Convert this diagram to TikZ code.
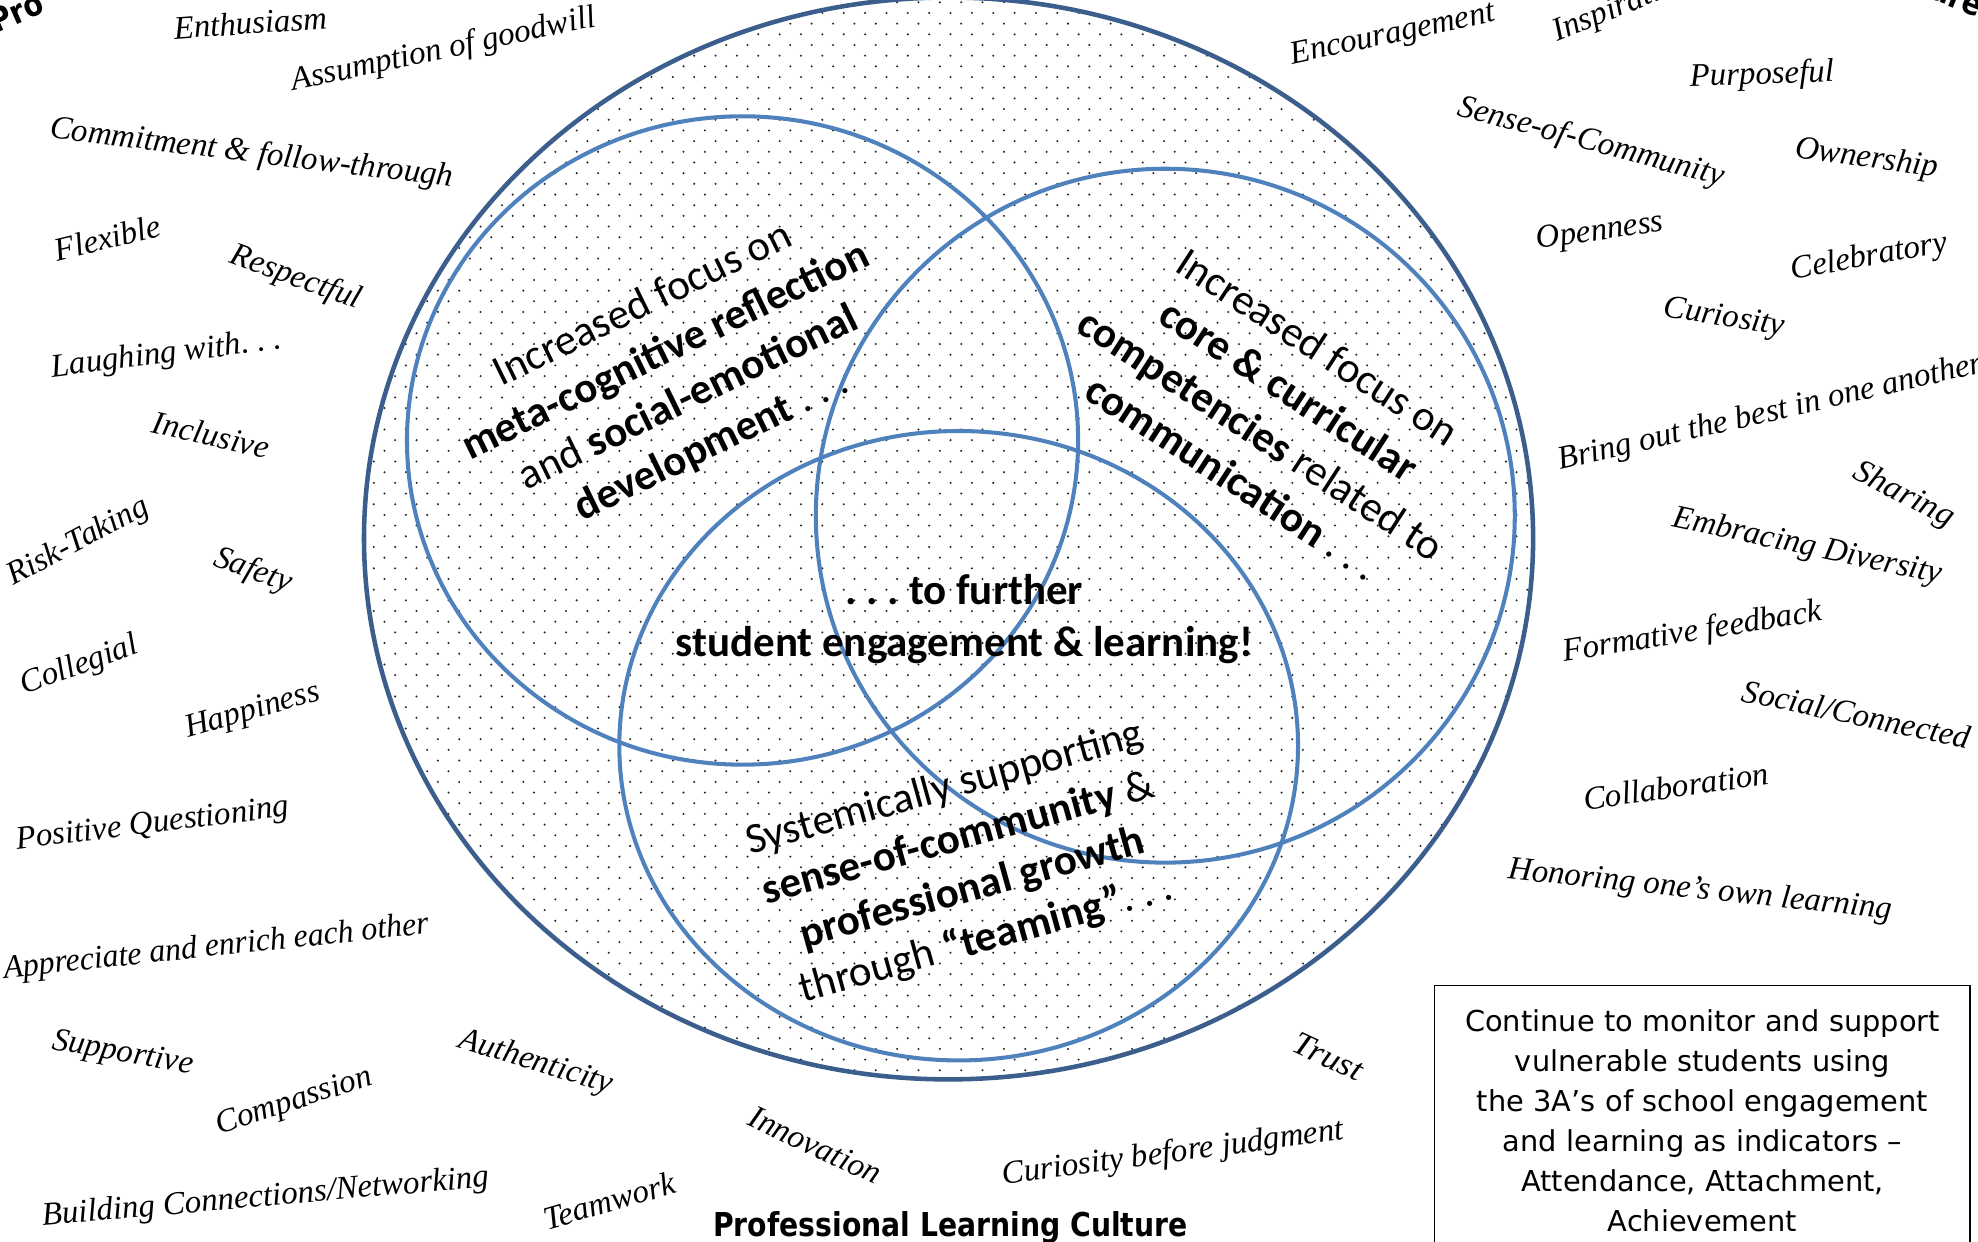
\documentclass[tikz,border=0pt]{standalone}
\usepackage{fontspec}
\setmainfont{Liberation Serif}
\newfontfamily\vennfont{Carlito}
\newfontfamily\boxfont{DejaVu Sans}
\usepackage{tikz}
\usetikzlibrary{
    patterns     % Dotted fill
}
\definecolor{RingBlue}{RGB}{59, 94, 140}
\definecolor{VennBlue}{RGB}{79, 129, 189}
\pgfdeclarepatternformonly{finedots}{\pgfpoint{-1pt}{-1pt}}{\pgfpoint{9.5pt}{9.5pt}}{\pgfpoint{8.45pt}{8.45pt}}{%
    \pgfpathcircle{\pgfpointorigin}{0.45pt}%
    \pgfpathcircle{\pgfpoint{4.225pt}{4.225pt}}{0.45pt}\pgfusepath{fill}}
\frenchspacing
\tikzset{
    word/.style={font=\fontsize{13}{15}\selectfont\itshape, inner sep=0pt},
    venntext/.style={font=\vennfont\fontsize{17}{20.6}\selectfont, align=center, inner sep=0pt},
    heading/.style={font=\boxfont\bfseries\fontsize{13}{15}\selectfont, inner sep=0pt, xscale=0.86},
    notebox/.style={draw, line width=0.75pt, font=\boxfont\fontsize{11.4}{15.8}\selectfont,
        align=center, text width=204pt, inner xsep=4pt, inner ysep=9.5pt},
    ring/.style={draw=RingBlue, line width=1.8pt},
    venn/.style={draw=VennBlue, line width=1.6pt}
}
\begin{document}
\begin{tikzpicture}[x=0.5pt, y=-0.5pt]
    \useasboundingbox (0,0) rectangle (1565,982);

    % Outer ring with dotted fill
    \fill[pattern=finedots, pattern color=black!85] (750.5,426) ellipse [x radius=462.5, y radius=428];
    \draw[ring] (750.5,426) ellipse [x radius=462.5, y radius=428];

    % Three overlapping circles
    \draw[venn] (587.5,348.5) ellipse [x radius=265.5, y radius=256.5];
    \draw[venn] (922,408) ellipse [x radius=276.5, y radius=274.5];
    \draw[venn] (758.5,590) ellipse [x radius=268.5, y radius=249];

    % Circle texts
    \node[venntext, rotate=26] (metacog) at (536,297)
        {Increased focus on\\\textbf{meta-cognitive reflection}\\and \textbf{social-emotional}\\\textbf{development} . . .};
    \node[venntext, rotate=-33] (core) at (1009,326)
        {Increased focus on\\\textbf{core \& curricular}\\\textbf{competencies} related to\\\textbf{communication} . . .};
    \node[venntext, rotate=15.5] (teaming) at (764,684)
        {Systemically supporting\\\textbf{sense-of-community} \&\\\textbf{professional growth}\\through \textbf{“teaming”}. . .};
    \node[venntext, font=\vennfont\bfseries\fontsize{17}{20.6}\selectfont] (further) at (763,490)
        {. . . to further\\student engagement \& learning!};

    % Culture words, left side
    \node[word, rotate=4] (enthusiasm) at (198,18) {Enthusiasm};
    \node[word, rotate=12] (goodwill) at (351,40) {Assumption of goodwill};
    \node[word, rotate=-7] (commitment) at (199,122) {Commitment \& follow-through};
    \node[word, rotate=14] (flexible) at (85,188) {Flexible};
    \node[word, rotate=-20] (respectful) at (234,220) {Respectful};
    \node[word, rotate=7] (laughing) at (132,281) {Laughing with. . .};
    \node[word, rotate=-13] (inclusive) at (167,344) {Inclusive};
    \node[word, rotate=28] (risk) at (62,429) {Risk-Taking};
    \node[word, rotate=-20] (safety) at (200,452) {Safety};
    \node[word, rotate=20] (collegial) at (63,527) {Collegial};
    \node[word, rotate=16] (happiness) at (200,563) {Happiness};
    \node[word, rotate=7] (questioning) at (121,653) {Positive Questioning};
    \node[word, rotate=6, xscale=0.97] (appreciate) at (171,750) {Appreciate and enrich each other};
    \node[word, rotate=-10] (supportive) at (97,834) {Supportive};
    \node[word, rotate=18] (compassion) at (233,872) {Compassion};
    \node[word, rotate=-17] (authenticity) at (424,841) {Authenticity};
    \node[word, rotate=5] (networking) at (210,948) {Building Connections/Networking};
    \node[word, rotate=16] (teamwork) at (482,950) {Teamwork};
    \node[word, rotate=-25] (innovation) at (645,906) {Innovation};
    \node[word, rotate=7.5] (judgment) at (928,913) {Curiosity before judgment};
    \node[word, rotate=-25, xscale=1.08] (trust) at (1051,836) {Trust};

    % Culture words, right side
    \node[word, rotate=12] (encouragement) at (1102,28) {Encouragement};
    \node[word, rotate=22, anchor=base west] (inspiration) at (1232,33) {Inspiration};
    \node[word, rotate=2] (purposeful) at (1394,60) {Purposeful};
    \node[word, rotate=-15] (community) at (1259,113) {Sense-of-Community};
    \node[word, rotate=-8] (ownership) at (1477,126) {Ownership};
    \node[word, rotate=8] (openness) at (1266,184) {Openness};
    \node[word, rotate=10] (celebratory) at (1479,204) {Celebratory};
    \node[word, rotate=-9] (curiosity) at (1364,252) {Curiosity};
    \node[word, rotate=13] (bestout) at (1401,327) {Bring out the best in one another};
    \node[word, rotate=-27, xscale=1.05] (sharing) at (1506,392) {Sharing};
    \node[word, rotate=-12] (diversity) at (1430,433) {Embracing Diversity};
    \node[word, rotate=9] (feedback) at (1339,501) {Formative feedback};
    \node[word, rotate=-12] (social) at (1469,565) {Social/Connected};
    \node[word, rotate=8] (collaboration) at (1326,622) {Collaboration};
    \node[word, rotate=-6] (honoring) at (1345,705) {Honoring one’s own learning};

    % Headings cut by the page edge
    \node[rotate=24, heading, anchor=base west] (headleft) at (-3,27) {Pro};
    \node[rotate=-22, heading, anchor=base east] (headright) at (1565,14) {ure};
    \node[heading, anchor=base] (culture) at (752,978) {Professional Learning Culture};

    % Monitoring note
    \node[notebox, anchor=north] (monitor) at (1347,779)
        {Continue to monitor and support\\vulnerable students using\\the 3A’s of school engagement\\and learning as indicators –\\Attendance, Attachment,\\Achievement};
\end{tikzpicture}
\end{document}
